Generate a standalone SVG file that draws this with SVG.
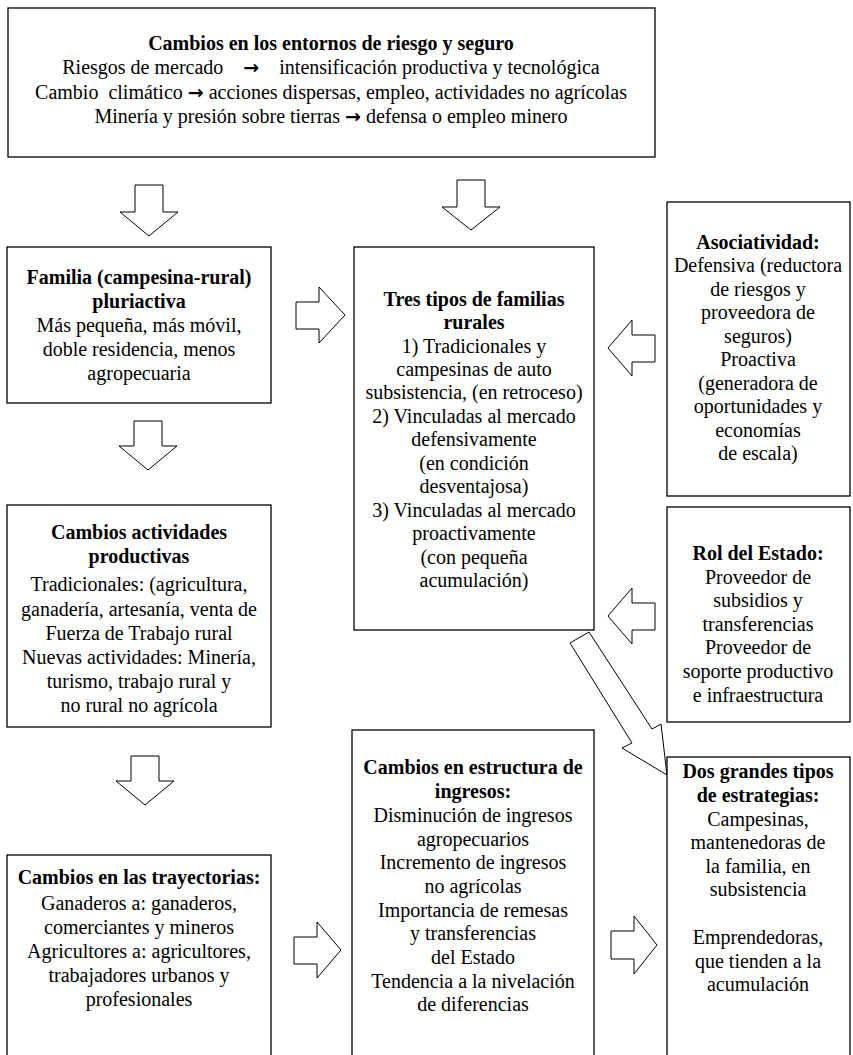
<svg xmlns="http://www.w3.org/2000/svg" width="853" height="1055" viewBox="0 0 853 1055">
<style>
.box{fill:#fff;stroke:#000;stroke-width:1.3}
.arr{fill:#fff;stroke:#000;stroke-width:1}
text{font-family:"Liberation Serif","Times New Roman",serif;font-size:20px;fill:#000;text-anchor:middle}
.b{font-weight:bold}
.ar{font-family:"DejaVu Sans",sans-serif;font-weight:bold;font-size:19px}
</style>
<rect width="853" height="1055" fill="#fff"/>
<g id="connectors">
<polygon class="arr" points="135,185 163,185 163,212 178,212 149,236 120,212 135,212"/>
<polygon class="arr" points="457,180 485,180 485,207 500,207 471,230 442,207 457,207"/>
<polygon class="arr" points="134,421 162,421 162,446 177,446 148,470 119,446 134,446"/>
<polygon class="arr" points="131,756 159,756 159,781 174,781 145,805 116,781 131,781"/>
<polygon class="arr" points="296,302 319,302 319,287 345,315 319,343 319,329 296,329"/>
<polygon class="arr" points="655,335 632,335 632,320 608,348 632,376 632,362 655,362"/>
<polygon class="arr" points="655,603 632,603 632,588 608,616 632,644 632,630 655,630"/>
<polygon class="arr" points="294,937 317,937 317,922 341,950 317,978 317,964 294,964"/>
<polygon class="arr" points="611,931 634,931 634,916 657,945 634,974 634,959 611,959"/>
<polygon class="arr" points="570,643 589,632 652,729 661,724 667,775 622,748 632,743"/>
</g>
<g id="n-top">
<rect class="box" x="8" y="8" width="647" height="149"/>
<text x="331" y="50" class="b">Cambios en los entornos de riesgo y seguro</text>
<text x="331" y="74" xml:space="preserve">Riesgos de mercado    <tspan class="ar">→</tspan>    intensificación productiva y tecnológica</text>
<text x="331" y="99" xml:space="preserve">Cambio  climático <tspan class="ar">→</tspan> acciones dispersas, empleo, actividades no agrícolas</text>
<text x="331" y="123">Minería y presión sobre tierras <tspan class="ar">→</tspan> defensa o empleo minero</text>
</g>
<g id="n-familia">
<rect class="box" x="7" y="247" width="264" height="156"/>
<text x="139" y="284" class="b">Familia (campesina-rural)</text>
<text x="139" y="308" class="b">pluriactiva</text>
<text x="139" y="332">Más pequeña, más móvil,</text>
<text x="139" y="356">doble residencia, menos</text>
<text x="139" y="380">agropecuaria</text>
</g>
<g id="n-tres">
<rect class="box" x="354" y="247" width="240" height="383"/>
<text x="474" y="306" class="b">Tres tipos de familias</text>
<text x="474" y="329" class="b">rurales</text>
<text x="474" y="353">1) Tradicionales y</text>
<text x="474" y="376">campesinas de auto</text>
<text x="474" y="399">subsistencia, (en retroceso)</text>
<text x="474" y="423">2) Vinculadas al mercado</text>
<text x="474" y="446">defensivamente</text>
<text x="474" y="470">(en condición</text>
<text x="474" y="493">desventajosa)</text>
<text x="474" y="517">3) Vinculadas al mercado</text>
<text x="474" y="540">proactivamente</text>
<text x="474" y="564">(con pequeña</text>
<text x="474" y="587">acumulación)</text>
</g>
<g id="n-asoc">
<rect class="box" x="667" y="202" width="183" height="294"/>
<text x="758" y="249" class="b">Asociatividad:</text>
<text x="758" y="272">Defensiva (reductora</text>
<text x="758" y="296">de riesgos y</text>
<text x="758" y="319">proveedora de</text>
<text x="758" y="343">seguros)</text>
<text x="758" y="366">Proactiva</text>
<text x="758" y="390">(generadora de</text>
<text x="758" y="413">oportunidades y</text>
<text x="758" y="437">economías</text>
<text x="758" y="460">de escala)</text>
</g>
<g id="n-rol">
<rect class="box" x="667" y="507" width="183" height="215"/>
<text x="758" y="560" class="b">Rol del Estado:</text>
<text x="758" y="584">Proveedor de</text>
<text x="758" y="607">subsidios y</text>
<text x="758" y="631">transferencias</text>
<text x="758" y="654">Proveedor de</text>
<text x="758" y="678">soporte productivo</text>
<text x="758" y="702">e infraestructura</text>
</g>
<g id="n-actividades">
<rect class="box" x="7" y="505" width="264" height="222"/>
<text x="139" y="539" class="b">Cambios actividades</text>
<text x="139" y="563" class="b">productivas</text>
<text x="139" y="591">Tradicionales: (agricultura,</text>
<text x="139" y="616">ganadería, artesanía, venta de</text>
<text x="139" y="640">Fuerza de Trabajo rural</text>
<text x="139" y="664">Nuevas actividades: Minería,</text>
<text x="139" y="688">turismo, trabajo rural y</text>
<text x="139" y="712">no rural no agrícola</text>
</g>
<g id="n-trayectorias">
<rect class="box" x="7" y="855" width="264" height="210"/>
<text x="139" y="884" class="b">Cambios en las trayectorias:</text>
<text x="139" y="910">Ganaderos a: ganaderos,</text>
<text x="139" y="934">comerciantes y mineros</text>
<text x="139" y="958">Agricultores a: agricultores,</text>
<text x="139" y="982">trabajadores urbanos y</text>
<text x="139" y="1006">profesionales</text>
</g>
<g id="n-ingresos">
<rect class="box" x="352" y="730" width="242" height="335"/>
<text x="473" y="774" class="b">Cambios en estructura de</text>
<text x="473" y="798" class="b">ingresos:</text>
<text x="473" y="822">Disminución de ingresos</text>
<text x="473" y="846">agropecuarios</text>
<text x="473" y="869">Incremento de ingresos</text>
<text x="473" y="893">no agrícolas</text>
<text x="473" y="917">Importancia de remesas</text>
<text x="473" y="940">y transferencias</text>
<text x="473" y="964">del Estado</text>
<text x="473" y="988">Tendencia a la nivelación</text>
<text x="473" y="1011">de diferencias</text>
</g>
<g id="n-dos">
<rect class="box" x="667" y="757" width="183" height="308"/>
<text x="758" y="778" class="b">Dos grandes tipos</text>
<text x="758" y="802" class="b">de estrategias:</text>
<text x="758" y="826">Campesinas,</text>
<text x="758" y="849">mantenedoras de</text>
<text x="758" y="873">la familia, en</text>
<text x="758" y="896">subsistencia</text>
<text x="758" y="944">Emprendedoras,</text>
<text x="758" y="968">que tienden a la</text>
<text x="758" y="991">acumulación</text>
</g>
</svg>
